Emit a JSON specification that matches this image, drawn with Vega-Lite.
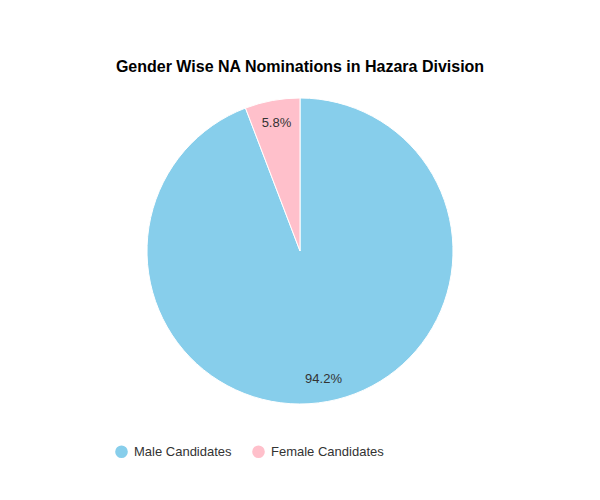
{
  "$schema": "https://vega.github.io/schema/vega-lite/v6.json",
  "autosize": {"type": "none"},
  "padding": 0,
  "width": 600,
  "height": 502,
  "background": "white",
  "title": {
    "text": "Gender Wise NA Nominations in Hazara Division",
    "font": "Liberation Sans",
    "fontSize": 16,
    "fontWeight": "bold",
    "color": "#000000",
    "anchor": "middle",
    "offset": 0,
    "dy": 75
  },
  "data": {
    "values": [
      {"gender": "Male Candidates", "share": 94.2, "label": "94.2%", "rank": 1},
      {"gender": "Female Candidates", "share": 5.8, "label": "5.8%", "rank": 2}
    ]
  },
  "encoding": {
    "theta": {"field": "share", "type": "quantitative", "stack": true},
    "order": {"field": "rank", "type": "quantitative"},
    "color": {
      "field": "gender",
      "type": "nominal",
      "scale": {
        "domain": ["Male Candidates", "Female Candidates"],
        "range": ["#87CEEB", "#FFC0CB"]
      },
      "legend": {
        "title": null,
        "orient": "none",
        "direction": "horizontal",
        "legendX": 115,
        "legendY": 445,
        "symbolType": "circle",
        "symbolSize": 160,
        "symbolStrokeWidth": 0,
        "labelFont": "Liberation Sans",
        "labelFontSize": 13,
        "labelColor": "#333333",
        "labelOffset": 6,
        "columnPadding": 20
      }
    }
  },
  "layer": [
    {
      "mark": {"type": "arc", "outerRadius": 153, "stroke": "white", "strokeWidth": 1}
    },
    {
      "mark": {"type": "text", "radius": 130, "font": "Liberation Sans", "fontSize": 13, "color": "#333333"},
      "encoding": {
        "text": {"field": "label", "type": "nominal"},
        "color": {"value": "#333333"}
      }
    }
  ]
}
